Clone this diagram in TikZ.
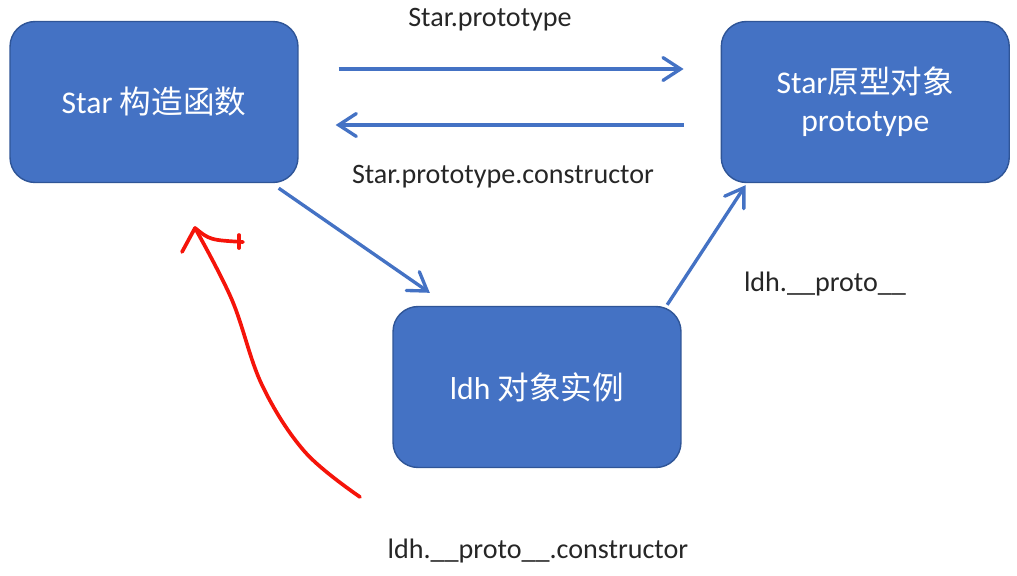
\documentclass[tikz,border=0pt]{standalone}
\usepackage{fontspec}
\setmainfont{Carlito}
\newfontfamily\cjk{Noto Sans CJK SC}
\usetikzlibrary{arrows.meta,positioning}
\definecolor{boxblue}{HTML}{4472C4}
\definecolor{boxline}{HTML}{2F5597}
\definecolor{penred}{HTML}{F5140A}
\definecolor{ink}{HTML}{262626}

\begin{document}
\begin{tikzpicture}[x=0.02cm,y=-0.02cm,node distance=8.44cm,
  box/.style={draw=boxline,line width=0.8pt,fill=boxblue,rounded corners=0.5cm,
    minimum width=5.76cm,minimum height=3.22cm,text=white,align=center,
    font=\fontsize{18}{21.6}\selectfont},
  lbl/.style={text=ink,font=\fontsize{16}{19}\selectfont},
  link/.style={draw=boxblue,line width=1.9pt,
    -{Straight Barb[length=10pt,width=13pt,line cap=round]}},
  pen/.style={draw=penred,line width=2.1pt,line cap=round,line join=round}]

  \useasboundingbox (0,0) rectangle (1017,575);

  % the three boxes
  \node[box]         (star)  at (154,102)    {Star {\cjk 构造函数}};
  \node[box]         (proto) [right=of star] {Star{\cjk 原型对象}\\prototype};
  \node[box]         (ldh)   at (537,387)    {ldh {\cjk 对象实例}};

  % labels
  \node[lbl] (toproto)  at (490,20)  {Star.prototype};
  \node[lbl] (tostar)   at (503,177) {Star.prototype.constructor};
  \node[lbl] (ldhproto) at (825,284) {ldh.\_\_proto\_\_};
  \node[lbl] (ldhcons)  at (538,551) {ldh.\_\_proto\_\_.constructor};

  % links
  \draw[link] ([xshift=0.8cm,yshift=0.66cm]star.east)
           -- ([xshift=-0.74cm,yshift=0.66cm]proto.west);
  \draw[link] ([xshift=-0.74cm,yshift=-0.46cm]proto.west)
           -- ([xshift=0.74cm,yshift=-0.46cm]star.east);
  \draw[link] ([xshift=-0.4cm,yshift=-0.1cm]star.south east)
           -- ([xshift=0.75cm,yshift=0.26cm]ldh.north west);
  \draw[link] ([xshift=-0.29cm,yshift=0.02cm]ldh.north east)
           -- ([xshift=0.5cm,yshift=-0.04cm]proto.south west);

  % red pen stroke
  \coordinate (penstart) at (360,497);
  \coordinate (pentip)   at (195,228);
  \draw[pen] plot[smooth,tension=0.6] coordinates {(penstart) (305,452)
    (262,385) (232,300) (pentip)};
  \draw[pen] (pentip) -- (182,252);
  \draw[pen] (pentip) .. controls (210,240) .. (243,242);
  \draw[pen] (239,235) -- (239,248);
\end{tikzpicture}
\end{document}
